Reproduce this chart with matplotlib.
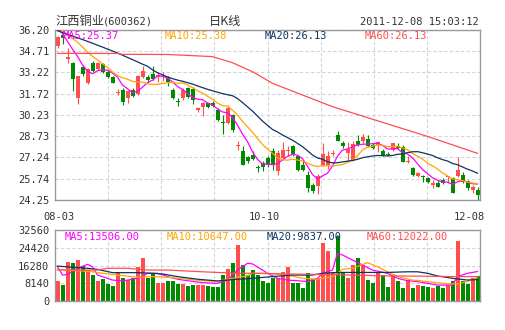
import matplotlib
matplotlib.use("Agg")
import matplotlib.pyplot as plt
import numpy as np

# daily K line of 600362, 2011-08-03 .. 2011-12-08 (85 trading days)
opens = [35.05, 35.85, 34.16, 33.90, 31.40, 33.58, 32.47, 33.90, 33.46, 33.81,
         33.27, 32.92, 31.75, 31.98, 31.44, 31.98, 31.70, 32.87, 32.92, 33.11,
         32.87, 32.92, 32.80, 32.01, 31.20, 31.40, 32.15, 32.05, 30.58, 30.81,
         31.04, 31.04, 30.58, 29.68, 29.66, 30.20, 28.02, 27.72, 27.25, 27.44,
         26.52, 26.85, 27.20, 27.67, 26.27, 27.20, 27.67, 28.02, 27.32, 26.69,
         26.03, 25.28, 25.21, 26.73, 26.73, 27.48, 28.80, 28.26, 27.55, 27.09,
         28.42, 28.37, 28.54, 28.09, 28.12, 27.72, 27.46, 27.77, 28.05, 28.00,
         26.93, 26.52, 25.94, 25.91, 25.82, 25.30, 25.47, 25.66, 25.88, 25.82,
         25.94, 26.01, 25.59, 24.95, 24.95]
highs = [35.75, 36.15, 34.93, 33.97, 33.00, 33.74, 33.52, 34.00, 33.95, 33.87,
         33.39, 32.97, 32.03, 32.10, 31.98, 32.15, 33.04, 33.69, 33.04, 33.69,
         33.27, 33.27, 32.95, 32.12, 31.40, 32.10, 32.22, 32.22, 30.81, 31.16,
         31.10, 31.20, 30.69, 30.20, 30.95, 30.30, 28.37, 28.02, 27.32, 27.67,
         26.73, 27.00, 27.32, 27.90, 27.79, 28.33, 28.02, 28.09, 27.44, 27.09,
         26.27, 25.45, 26.08, 28.26, 27.70, 27.79, 29.08, 28.42, 28.35, 28.37,
         28.84, 28.89, 28.80, 28.26, 28.40, 27.81, 27.65, 28.28, 28.23, 28.12,
         27.34, 26.59, 26.24, 26.01, 25.89, 25.66, 25.66, 25.77, 25.94, 25.89,
         27.30, 26.24, 25.66, 25.30, 25.19]
lows = [34.95, 35.24, 33.88, 31.93, 30.97, 32.97, 32.40, 33.27, 33.40, 33.15,
        32.85, 32.45, 31.63, 30.93, 31.04, 31.47, 31.63, 32.80, 32.57, 32.68,
        32.57, 32.60, 32.29, 31.37, 30.85, 31.28, 31.40, 31.00, 30.46, 30.15,
        30.75, 30.80, 29.82, 28.89, 29.59, 29.03, 27.79, 26.69, 26.85, 27.09,
        26.22, 26.27, 26.60, 26.38, 26.03, 27.08, 27.32, 27.32, 26.27, 26.27,
        24.81, 24.74, 24.70, 26.62, 26.40, 27.32, 28.37, 27.91, 27.00, 26.97,
        28.02, 28.26, 28.00, 27.86, 27.65, 27.37, 27.37, 27.72, 27.81, 26.93,
        26.87, 25.94, 25.84, 25.54, 25.47, 25.07, 25.14, 25.35, 25.42, 24.72,
        25.89, 25.47, 24.95, 24.77, 24.25]
closes = [35.68, 35.62, 34.32, 32.73, 32.97, 33.08, 33.46, 33.35, 33.86, 33.27,
          32.92, 32.50, 31.87, 31.11, 31.94, 31.58, 32.97, 33.32, 32.68, 32.78,
          33.04, 33.00, 32.54, 31.42, 31.15, 31.98, 31.51, 31.30, 30.69, 31.04,
          30.81, 30.86, 29.87, 29.64, 30.72, 29.19, 28.14, 26.73, 26.97, 27.16,
          26.48, 26.55, 26.73, 26.73, 27.55, 27.79, 27.79, 27.48, 26.38, 26.38,
          25.09, 24.86, 25.91, 27.48, 27.37, 27.53, 28.42, 28.02, 27.80, 28.21,
          28.14, 28.70, 28.07, 27.91, 28.35, 27.41, 27.41, 28.23, 27.88, 26.95,
          26.97, 26.01, 26.17, 25.87, 25.54, 25.47, 25.19, 25.42, 25.91, 24.77,
          26.36, 25.54, 25.07, 25.19, 24.60]
volumes = [9000, 7300, 18000, 17600, 18800, 16200, 14200, 11900, 9000, 10200,
           8000, 7000, 13200, 10600, 9500, 10600, 15600, 19700, 10500, 12700,
           8400, 8300, 9000, 9300, 7800, 7800, 6700, 7200, 7500, 7500,
           7000, 6600, 6300, 11900, 14700, 17600, 25800, 16500, 12100, 14100,
           11900, 9000, 8100, 10500, 10500, 13500, 15600, 8400, 8400, 6000,
           12800, 10200, 10500, 26600, 22800, 13500, 29800, 13500, 10500, 16500,
           19700, 16400, 9800, 8300, 13500, 11800, 6400, 11800, 9000, 5800,
           9800, 5800, 7500, 6700, 6300, 6000, 6700, 6000, 7200, 9300,
           27700, 9300, 8000, 10500, 11500]

# price moving averages
ma5 = [36.30, 35.95, 35.40, 34.85, 34.35, 33.74, 33.31, 33.12, 33.34, 33.40,
       33.37, 33.18, 32.88, 32.33, 32.07, 31.80, 31.89, 32.18, 32.50, 32.67,
       32.96, 32.96, 32.81, 32.56, 32.23, 32.02, 31.72, 31.47, 31.33, 31.30,
       31.07, 30.94, 30.65, 30.44, 30.38, 30.06, 29.51, 28.88, 28.35, 27.64,
       27.10, 26.78, 26.78, 26.73, 26.81, 27.07, 27.32, 27.47, 27.40, 27.16,
       26.62, 26.04, 25.72, 25.94, 26.14, 26.63, 27.34, 27.76, 27.83, 28.00,
       28.12, 28.17, 28.18, 28.21, 28.23, 28.09, 27.83, 27.86, 27.86, 27.58,
       27.49, 27.21, 26.80, 26.39, 26.11, 25.81, 25.65, 25.50, 25.51, 25.35,
       25.53, 25.60, 25.53, 25.39, 25.37]
ma10 = [36.40, 36.15, 35.85, 35.60, 35.35, 35.00, 34.65, 34.35, 34.10, 33.83,
        33.56, 33.25, 33.00, 32.84, 32.74, 32.59, 32.54, 32.53, 32.42, 32.37,
        32.38, 32.43, 32.50, 32.53, 32.45, 32.49, 32.34, 32.14, 31.94, 31.77,
        31.54, 31.33, 31.06, 30.89, 30.84, 30.56, 30.23, 29.77, 29.40, 29.01,
        28.58, 28.15, 27.83, 27.54, 27.22, 27.08, 27.05, 27.12, 27.06, 26.99,
        26.85, 26.68, 26.60, 26.67, 26.65, 26.63, 26.69, 26.74, 26.89, 27.07,
        27.37, 27.76, 27.97, 28.02, 28.12, 28.10, 28.00, 28.02, 28.03, 27.91,
        27.79, 27.52, 27.33, 27.13, 26.84, 26.65, 26.43, 26.15, 25.95, 25.73,
        25.67, 25.62, 25.51, 25.45, 25.38]
ma20 = [36.15, 36.02, 35.90, 35.78, 35.65, 35.53, 35.40, 35.27, 35.13, 35.00,
        34.86, 34.72, 34.58, 34.43, 34.27, 34.12, 33.96, 33.80, 33.65, 33.40,
        33.20, 33.05, 32.90, 32.78, 32.68, 32.60, 32.50, 32.40, 32.27, 32.15,
        32.03, 31.93, 31.83, 31.73, 31.65, 31.58, 31.38, 31.10, 30.80, 30.50,
        30.15, 29.80, 29.50, 29.21, 29.03, 28.82, 28.64, 28.45, 28.23, 28.00,
        27.71, 27.41, 27.21, 27.11, 26.94, 26.86, 26.87, 26.93, 26.98, 27.03,
        27.11, 27.22, 27.29, 27.34, 27.38, 27.37, 27.35, 27.38, 27.46, 27.49,
        27.58, 27.64, 27.65, 27.57, 27.48, 27.38, 27.22, 27.09, 26.99, 26.82,
        26.73, 26.57, 26.42, 26.29, 26.13]
ma60_day = [0, 12, 13, 22, 31, 35, 39, 43, 49, 55, 64, 74, 84]
ma60 = [34.56, 34.55, 34.49, 34.48, 34.33, 33.90, 33.27, 32.45, 31.63, 30.81,
        29.82, 28.72, 27.53]

# volume moving averages
vma5_day = [0, 1, 2, 4, 6, 7, 8, 10, 11, 13, 16, 17, 18, 20, 22, 24, 26, 29, 32,
            34, 36, 38, 39, 41, 42, 44, 46, 48, 50, 52, 53, 55, 56, 57, 59, 61,
            63, 66, 68, 70, 72, 74, 76, 79, 80, 82, 84]
vma5 = [15700, 11900, 12200, 15000, 16800, 15700, 11900, 10400, 9600, 9200,
        10400, 11200, 12700, 12700, 11200, 10000, 9300, 8400, 8100, 9600,
        14200, 17300, 17000, 14200, 12700, 10400, 9600, 9300, 8900, 10400,
        12700, 14200, 21900, 21100, 18800, 16500, 14200, 12700, 10400, 9300,
        8900, 8100, 7300, 7300, 11200, 12700, 13506]
vma10_day = [0, 2, 7, 9, 12, 16, 19, 22, 26, 29, 32, 36, 38, 39, 42, 46, 49, 52,
             55, 57, 59, 62, 64, 66, 68, 71, 74, 77, 80, 82, 84]
vma10 = [14500, 14200, 13400, 12700, 11900, 10900, 11200, 10900, 10000, 9300,
         9000, 10900, 11500, 12700, 12700, 11900, 10400, 10000, 11200, 14500,
         15000, 17600, 15700, 13400, 11200, 9600, 8900, 8100, 7800, 9000, 10647]
vma20_day = [0, 6, 8, 11, 16, 19, 21, 24, 28, 32, 36, 38, 39, 43, 47, 51, 53, 56,
             61, 66, 70, 72, 74, 76, 79, 82, 84]
vma20 = [16000, 15000, 14500, 13000, 13000, 12700, 12400, 11200, 10000, 9200,
         10000, 10200, 10400, 11200, 11900, 11900, 12700, 13100, 13100, 13100,
         13400, 13400, 12700, 11500, 10400, 9600, 9837]
vma60_day = [0, 8, 10, 14, 18, 22, 29, 36, 39, 46, 52, 59, 66, 72, 79, 84]
vma60 = [14200, 14200, 15000, 15000, 14200, 14200, 13400, 12700, 12700, 12400,
         12200, 11900, 11500, 11400, 11200, 11200]

price_ticks = [24.25, 25.74, 27.24, 28.73, 30.23, 31.72, 33.22, 34.71, 36.20]
vol_ticks = [0, 8140, 16280, 24420, 32560]
date_day = [0, 42, 84]
date_text = ["08-03", "10-10", "12-08"]

RED = "#ff4e4e"
GREEN = "#008a00"
C5, C10, C20, C60 = "#ff00ff", "#ffa500", "#0b3565", "#ff4e4e"
TXT = "#333333"

plt.rcParams["font.family"] = ["DejaVu Sans Mono"]

fig = plt.figure(figsize=(5.05, 3.30), dpi=100)
ax = fig.add_axes([55 / 505, 130 / 330, 425 / 505, 170 / 330])
axv = fig.add_axes([55 / 505, 29 / 330, 425 / 505, 71 / 330])

o = np.array(opens)
c = np.array(closes)
x = np.arange(len(c))
cols = np.where(c >= o, RED, GREEN)

# candles
ax.vlines(x, lows, highs, colors=cols, lw=0.8, zorder=2)
ax.bar(x, np.maximum(np.abs(c - o), 0.07), bottom=np.minimum(o, c),
       width=0.8, color=cols, lw=0, zorder=2)
ax.plot(x, ma5, color=C5, lw=0.9, zorder=3)
ax.plot(x, ma10, color=C10, lw=0.9, zorder=3)
ax.plot(x, ma20, color=C20, lw=0.9, zorder=3)
ax.plot(ma60_day, ma60, color=C60, lw=0.9, zorder=3)

# volume
axv.bar(x, volumes, width=0.8, color=cols, lw=0, zorder=2)
axv.plot(vma5_day, vma5, color=C5, lw=0.9, zorder=3)
axv.plot(vma10_day, vma10, color=C10, lw=0.9, zorder=3)
axv.plot(vma20_day, vma20, color=C20, lw=0.9, zorder=3)
axv.plot(vma60_day, vma60, color=C60, lw=0.9, zorder=3)

ax.set_ylim(price_ticks[0], price_ticks[-1])
axv.set_ylim(vol_ticks[0], vol_ticks[-1])
ax.set_yticks(price_ticks)
ax.set_yticklabels(["%.2f" % v for v in price_ticks])
axv.set_yticks(vol_ticks)
axv.set_yticklabels([str(v) for v in vol_ticks])

for a in (ax, axv):
    a.set_xlim(-0.5, len(c) - 0.5)
    a.set_xticks([])
    a.tick_params(axis="y", length=0, pad=4, labelsize=7.5, labelcolor=TXT)
    a.grid(axis="y", color="#d4d4d4", ls=(0, (3, 2)), lw=0.8, zorder=0)
    for k in range(1, 8):
        a.axvline(-0.5 + k * len(c) / 8, color="#d4d4d4", ls=(0, (3, 2)),
                  lw=0.8, zorder=0)
    for s in a.spines.values():
        s.set_color("#999999")
        s.set_linewidth(1.0)

# date labels under the price panel
for d, t, dx in zip(date_day, date_text, [1.4, -2.2, -6.1]):
    ax.annotate(t, xy=(d, 0), xycoords=("data", "axes fraction"),
                xytext=(dx, -12.2), textcoords="offset points",
                ha="center", va="center", fontsize=7.5, color=TXT)

# MA captions
lab_x = [63, 165, 265, 365]
price_lab = ["MA5:25.37", "MA10:25.38", "MA20:26.13", "MA60:26.13"]
vol_lab = ["MA5:13506.00", "MA10:10647.00", "MA20:9837.00", "MA60:12022.00"]
for px, t, cc in zip(lab_x, price_lab, [C5, C10, C20, C60]):
    ax.text((px - 55) / 425, 1 - 6 / 170, t, transform=ax.transAxes,
            ha="left", va="center", fontsize=7.5, color=cc, zorder=4)
for px, t, cc in zip(lab_x, vol_lab, [C5, C10, C20, C60]):
    axv.text((px + 2 - 55) / 425, 1 - 6.5 / 71, t, transform=axv.transAxes,
             ha="left", va="center", fontsize=7.5, color=cc, zorder=4)

# header
fig.text(55 / 505, 1 - 22 / 330, "江西铜业", family=["Noto Sans CJK SC"],
         fontsize=8.8, color=TXT, ha="left", va="center")
fig.text(103 / 505, 1 - 22 / 330, "(600362)", fontsize=7.5, color=TXT,
         ha="left", va="center")
fig.text(225 / 505, 1 - 22 / 330, "日K线", family=["Noto Sans CJK SC"],
         fontsize=8.8, color=TXT, ha="center", va="center")
fig.text(479 / 505, 1 - 22 / 330, "2011-12-08 15:03:12", fontsize=7.5,
         color=TXT, ha="right", va="center")

fig.savefig("out.png", dpi=100, facecolor="white")
